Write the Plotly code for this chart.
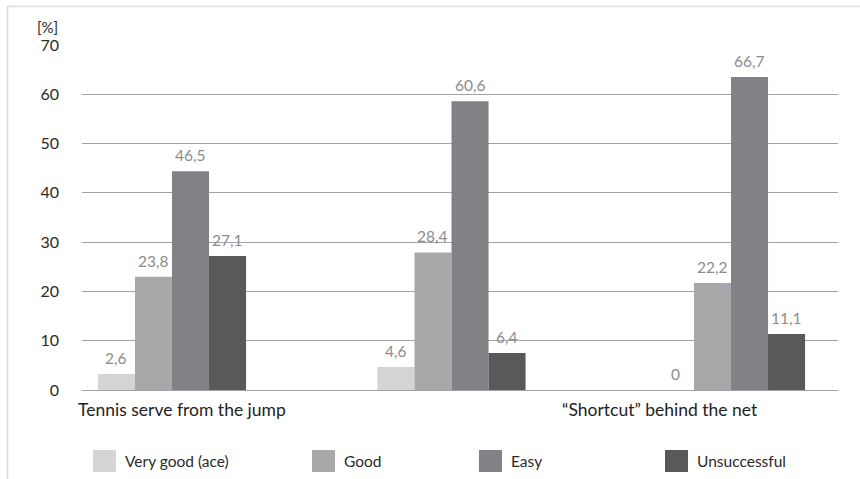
import plotly.graph_objects as go

categories = ["Tennis serve from the jump", "", "\u201cShortcut\u201d behind the net"]
series_names = ["Very good (ace)", "Good", "Easy", "Unsuccessful"]
# bar heights as drawn in the picture
very_good = [3.25, 4.67, 0.0]
good = [23.0, 27.9, 21.7]
easy = [44.4, 58.6, 63.5]
unsuccessful = [27.2, 7.5, 11.35]
# printed value labels
very_good_lbl = ["2,6", "4,6", "0"]
good_lbl = ["23,8", "28,4", "22,2"]
easy_lbl = ["46,5", "60,6", "66,7"]
unsuccessful_lbl = ["27,1", "6,4", "11,1"]
y_ticks = [0, 10, 20, 30, 40, 50, 60, 70]

colors = ["#d4d4d5", "#a7a8aa", "#808285", "#58595b"]
values = [very_good, good, easy, unsuccessful]
labels = [very_good_lbl, good_lbl, easy_lbl, unsuccessful_lbl]

W, H = 860, 479
L, R, T, B = 82, 22, 45, 89
pw, ph = W - L - R, H - T - B

def px(x):
    return (x - L) / pw

def py(y):
    return (H - B - y) / ph

BARGAP = 0.47
nser = len(series_names)
bw = (1 - BARGAP) / nser

xs = list(range(len(categories)))
fig = go.Figure()
annotations = []
for j, (name, vals, lbls, col) in enumerate(zip(series_names, values, labels, colors)):
    fig.add_trace(go.Bar(
        x=xs, y=vals, name=name, marker=dict(color=col, line=dict(width=0)),
        showlegend=False, hoverinfo="skip",
    ))
    off = (j - (nser - 1) / 2) * bw
    for xi, v, t in zip(xs, vals, lbls):
        annotations.append(dict(text=t, x=xi + off, y=v, xref="x", yref="y",
                                showarrow=False, xanchor="center", yanchor="middle",
                                yshift=16,
                                font=dict(family="Lato", size=15.5, color="#8c8c8c")))

group_px = 279.5
x0 = -(172 - L) / group_px
x1 = (W - R - 172) / group_px

fig.update_layout(
    width=W, height=H,
    margin=dict(l=L, r=R, t=T, b=B),
    paper_bgcolor="white", plot_bgcolor="white",
    barmode="group", bargap=BARGAP, bargroupgap=0,
    font=dict(family="Lato", size=16, color="#333333"),
    xaxis=dict(range=[x0, x1], showticklabels=False, showgrid=False,
               zeroline=False, showline=False, ticks=""),
    yaxis=dict(range=[0, 70], tickvals=y_ticks, showgrid=True,
               gridcolor="#a3a3a3", gridwidth=1, zeroline=True,
               zerolinecolor="#a3a3a3", zerolinewidth=1, showline=False,
               ticks="", ticklabelstandoff=22,
               tickfont=dict(family="Lato", size=16, color="#2a2a2a")),
)

shapes = []
# outer frame
shapes.append(dict(type="rect", xref="paper", yref="paper",
                   x0=px(7.5), x1=px(875), y0=py(6.5), y1=py(495),
                   line=dict(color="#dcdcdc", width=1.5), fillcolor="rgba(0,0,0,0)"))
# unit label
annotations.append(dict(text="[%]", xref="paper", yref="paper", x=px(60), y=py(27),
                        xanchor="right", yanchor="middle", showarrow=False,
                        font=dict(family="Lato", size=15, color="#2a2a2a")))
# category labels
cat_centers = [182, 452, 660]
for c, cx in zip(categories, cat_centers):
    if c:
        annotations.append(dict(text=c, xref="paper", yref="paper", x=px(cx), y=py(409),
                                xanchor="center", yanchor="middle", showarrow=False,
                                font=dict(family="Lato", size=17.5, color="#222222")))
# legend
leg_x = [93, 312, 479, 665]
for name, col, lx in zip(series_names, colors, leg_x):
    shapes.append(dict(type="rect", xref="paper", yref="paper",
                       x0=px(lx), x1=px(lx + 23), y0=py(450), y1=py(472),
                       line=dict(width=0), fillcolor=col))
    annotations.append(dict(text=name, xref="paper", yref="paper", x=px(lx + 30), y=py(461),
                            xanchor="left", yanchor="middle", showarrow=False,
                            font=dict(family="Lato", size=15.5, color="#2a2a2a")))

fig.update_layout(shapes=shapes, annotations=annotations)
fig.write_html("out.html", config={"displayModeBar": False},
               post_script="document.body.style.margin='0';")
